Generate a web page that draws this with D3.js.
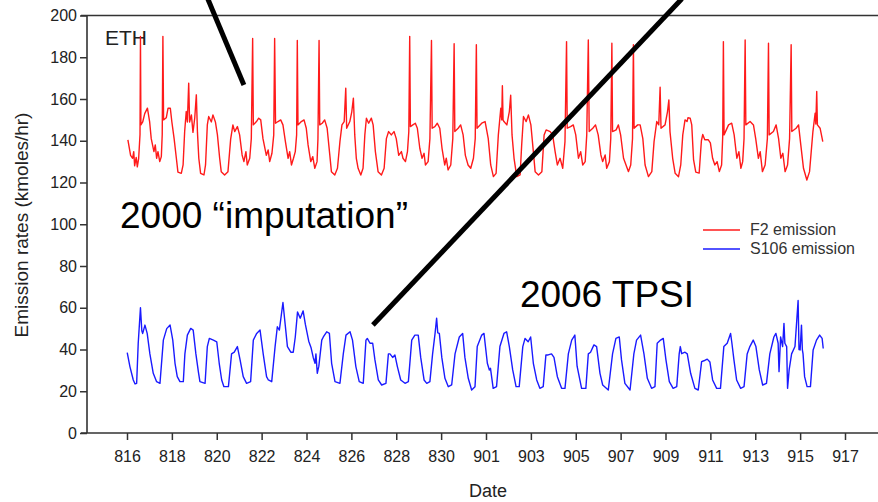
<!DOCTYPE html>
<html>
<head>
<meta charset="utf-8">
<script src="https://cdn.jsdelivr.net/npm/d3@7"></script>
<style>
  body { margin: 0; background: #fff; }
  svg { display: block; font-family: "Liberation Sans", Arial, sans-serif; }
</style>
</head>
<body>
<div id="chart"></div>
<script>
// x values are days counted from 8/16 00:00
const dateLabels = ["816","818","820","822","824","826","828","830","901","903","905","907","909","911","913","915","917"];
const dateTickDays = [0,2,4,6,8,10,12,14,16,18,20,22,24,26,28,30,32];
const yTicks = [0,20,40,60,80,100,120,140,160,180,200];

const f2Emission = [
  [0.04,140.4],[0.16,133],[0.25,131.6],[0.3,134.8],[0.34,128],[0.41,132],[0.46,127.5],[0.52,131.6],[0.58,143],[0.6,190],[0.62,147.6],[0.7,149],[0.79,153],[0.91,155.6],
  [1.01,149],[1.08,141],[1.2,134.8],[1.26,138],[1.32,131.6],[1.38,134.8],[1.46,130],[1.53,132.4],[1.57,143],[1.6,190],[1.63,150],[1.75,151],[1.83,155.6],[1.93,155.6],
  [2.0,149],[2.1,141],[2.2,131.6],[2.27,125],[2.42,124.4],[2.5,128.4],[2.57,144.4],[2.64,154],[2.69,149],[2.75,167.6],[2.79,149],[2.87,152.4],[2.94,144],
  [3.02,151],[3.09,162],[3.14,144],[3.2,131.6],[3.28,124.4],[3.43,123.6],[3.5,128.4],[3.58,147.6],[3.64,151.6],[3.76,149],[3.83,152.4],[3.94,149],
  [4.03,142.8],[4.13,131.6],[4.2,125.2],[4.35,123.6],[4.5,125.2],[4.62,140.8],[4.72,147.6],[4.8,144.4],[4.92,146.8],
  [5.02,142.8],[5.13,133.2],[5.21,130],[5.3,134.8],[5.36,128.4],[5.47,131.6],[5.54,141],[5.6,189],[5.63,147.6],[5.77,149.2],[5.87,150.8],[5.96,150],
  [6.06,141],[6.21,133],[6.29,135.6],[6.36,130],[6.46,134],[6.54,142.8],[6.58,189],[6.62,148.4],[6.73,149.2],[6.85,150],[6.95,147.6],
  [7.06,139.6],[7.18,131.6],[7.25,134.8],[7.33,128.4],[7.42,131.6],[7.5,134.8],[7.56,142.8],[7.59,188],[7.62,147.6],[7.77,149.2],[7.89,150],[7.99,146],
  [8.07,138],[8.19,130],[8.28,132.4],[8.37,126.8],[8.47,130],[8.51,141],[8.56,188],[8.59,147.6],[8.7,148.4],[8.81,150],[8.92,146],
  [9.04,133],[9.11,125.2],[9.26,123.6],[9.38,126.8],[9.49,139.6],[9.58,147.6],[9.68,149.2],[9.75,165.2],[9.79,146],[9.93,149.2],
  [10.02,154],[10.09,160.4],[10.15,142.8],[10.22,131.6],[10.3,126.8],[10.42,123.6],[10.52,126.8],[10.6,142.8],[10.67,150.8],[10.77,148.4],[10.89,150.8],[10.97,147.6],
  [11.07,134.8],[11.19,125.2],[11.34,123.6],[11.46,126.8],[11.56,141],[11.66,144.4],[11.78,142.8],[11.9,144.4],
  [12.0,141],[12.11,133],[12.23,134.8],[12.3,131.6],[12.41,130],[12.5,134.8],[12.56,144.4],[12.6,190],[12.63,146.8],[12.74,147.6],[12.85,148.4],[12.94,146],
  [13.05,136.4],[13.15,131.6],[13.24,134],[13.3,128.4],[13.42,130],[13.5,141],[13.57,188],[13.6,146],[13.72,146.8],[13.83,148.4],[13.94,146],
  [14.04,136.4],[14.16,128.4],[14.23,131.6],[14.31,126],[14.43,128.4],[14.52,141],[14.58,186.5],[14.61,144.4],[14.76,146],[14.87,147.6],[14.98,142.8],
  [15.08,133],[15.2,128.4],[15.32,126.8],[15.44,131.6],[15.52,141],[15.57,186],[15.6,146],[15.81,148.4],[15.96,149.2],
  [16.1,141],[16.21,128.4],[16.33,122.8],[16.45,124.4],[16.55,142.8],[16.66,155.6],[16.7,150],[16.73,166.4],[16.76,150],[16.8,149.2],[16.93,147.6],
  [17.04,154],[17.1,161.8],[17.16,142.8],[17.25,131.6],[17.37,122.8],[17.52,123.6],[17.59,138],[17.67,151.6],[17.79,149.2],[17.89,152.4],
  [18.0,147.6],[18.11,134.8],[18.19,125.2],[18.34,123.6],[18.49,125.2],[18.59,142.8],[18.68,145.2],[18.86,144.4],[18.97,142.8],
  [19.08,134.8],[19.18,128.4],[19.3,131.6],[19.42,126.8],[19.52,139.6],[19.59,187.5],[19.62,146],[19.77,146.8],[19.89,147.6],
  [20.0,142.8],[20.12,131.6],[20.22,134.8],[20.31,128.4],[20.42,130],[20.49,142.8],[20.56,188.3],[20.6,144.4],[20.76,146],[20.88,147.6],
  [21.0,142.8],[21.12,133.2],[21.2,130],[21.31,133.2],[21.38,126.8],[21.5,130],[21.56,141],[21.61,186.7],[21.64,144.4],[21.8,145.2],[21.9,147.6],
  [22.0,142.8],[22.13,131.6],[22.24,128.4],[22.35,125.2],[22.45,128.4],[22.53,141],[22.57,186],[22.6,146],[22.76,147.6],[22.87,147.6],[22.99,141],
  [23.09,128.4],[23.24,122.8],[23.39,125.2],[23.49,139.6],[23.61,149.2],[23.7,147.6],[23.76,165.6],[23.8,146],[23.98,147.6],
  [24.09,154],[24.15,159.6],[24.2,144.4],[24.32,131.6],[24.43,124.4],[24.58,122.8],[24.68,128.4],[24.77,142.8],[24.87,150],[24.96,149.2],
  [25.0,151],[25.1,150.8],[25.17,147.6],[25.25,131],[25.35,125],[25.5,124.5],[25.6,140],[25.66,143],[25.75,140.5],[25.9,140.5],
  [26.0,139],[26.1,131.6],[26.2,128.4],[26.3,130],[26.4,125.2],[26.5,128.4],[26.55,142],[26.58,187.5],[26.61,142.8],[26.81,147.6],[26.95,148.4],
  [27.06,142.8],[27.18,131.6],[27.27,134.8],[27.36,126.8],[27.44,130],[27.5,141],[27.55,188.3],[27.58,147.6],[27.77,149.2],[27.92,147.6],
  [28.02,141],[28.14,131.6],[28.22,134.8],[28.32,125.2],[28.44,128.4],[28.54,141],[28.59,186.7],[28.62,142.8],[28.81,144.4],[28.93,147.6],
  [29.04,141],[29.14,131.6],[29.23,134],[29.33,125.2],[29.44,128.4],[29.53,141],[29.6,186],[29.63,144.4],[29.82,146],[29.93,147.6],
  [30.03,138],[30.15,126.8],[30.3,121.2],[30.42,125.2],[30.57,144.4],[30.67,153.2],[30.7,148],[30.74,163.6],[30.77,147.6],[30.89,146],[31.01,139.6]
];

const s106Emission = [
  [0.01,38.5],[0.13,31.8],[0.28,25.4],[0.36,23.5],[0.43,23.8],[0.5,43],[0.6,60],[0.66,49],[0.7,47.7],[0.8,51.7],[0.9,47.7],
  [1.02,37.9],[1.17,28.6],[1.32,24.6],[1.47,23.8],[1.62,44.5],[1.77,50],[1.92,51.7],
  [2.04,44.5],[2.14,33.4],[2.24,27],[2.36,24.6],[2.51,24.6],[2.58,37.9],[2.69,46.9],[2.84,50.1],[2.95,49.3],
  [3.07,37.9],[3.18,29.4],[3.25,24.6],[3.48,23.8],[3.58,41.4],[3.67,45.3],[3.85,44.5],
  [4.0,43.7],[4.11,33.4],[4.22,25.4],[4.32,22.2],[4.52,22.2],[4.66,37.9],[4.78,38.7],[4.92,41.4],
  [5.04,35],[5.18,27],[5.33,23.8],[5.51,24.6],[5.63,44.5],[5.78,47.7],[5.93,49.3],
  [6.07,37.9],[6.22,27],[6.3,25.4],[6.45,24.6],[6.6,41.4],[6.7,50.9],[6.79,49.3],[6.95,62.5],
  [7.05,52],[7.15,41.4],[7.3,38.7],[7.41,38.7],[7.5,46],[7.6,58],[7.72,55],[7.85,58.5],[7.95,52],
  [8.1,44],[8.2,41],[8.3,36.2],[8.38,33.4],[8.42,37.9],[8.48,28.6],[8.55,32],[8.68,44.5],[8.75,46],[8.9,48.5],
  [9.02,47.7],[9.12,33.4],[9.27,24.6],[9.49,23.8],[9.64,37.9],[9.76,46.9],[9.94,48.5],
  [10.05,44.5],[10.2,31.8],[10.35,24.6],[10.53,23.8],[10.65,44.5],[10.71,45.3],[10.83,43],[10.95,43],
  [11.05,35],[11.2,25.4],[11.35,23],[11.54,23.8],[11.65,37.9],[11.72,37.9],[11.84,36.2],[11.94,37.4],
  [12.05,31.8],[12.2,25.4],[12.39,23.8],[12.54,24.6],[12.69,44.5],[12.83,46.9],[12.98,46.9],
  [13.09,36.2],[13.24,25.4],[13.36,23.8],[13.5,24.6],[13.62,37.9],[13.73,47.7],[13.8,55],[13.85,48],[13.92,47.7],
  [14.03,36.2],[14.17,26.2],[14.32,22.2],[14.47,23],[14.62,37.9],[14.81,46],[14.96,47.7],
  [15.06,36.2],[15.21,26.2],[15.36,20.6],[15.51,22.2],[15.61,41.4],[15.81,46.9],[15.91,47.7],
  [16.06,33.4],[16.15,30.2],[16.2,31],[16.32,21.4],[16.47,22.2],[16.62,41.4],[16.8,47.7],[16.92,48.5],
  [17.04,41.4],[17.19,30.2],[17.34,22.2],[17.48,22.2],[17.64,41.4],[17.74,45.3],[17.88,43.7],[17.99,46],
  [18.11,33.4],[18.26,25.4],[18.4,21.4],[18.55,22.2],[18.67,37.4],[18.77,37.4],[18.92,37.9],
  [19.03,36.2],[19.18,27],[19.37,21.4],[19.52,21.4],[19.67,37.9],[19.82,44.5],[19.96,46.9],
  [20.06,32],[20.26,21.4],[20.45,21.4],[20.56,37.9],[20.66,38.7],[20.81,42.2],[20.93,41.4],
  [21.08,28.6],[21.2,23],[21.45,20.6],[21.64,37.9],[21.79,45.3],[21.94,46],
  [22.04,35],[22.19,23.8],[22.42,20.6],[22.59,37.9],[22.71,44.5],[22.89,46.9],
  [23.04,37.9],[23.19,26.2],[23.38,21.4],[23.53,22.2],[23.63,43],[23.78,44.5],[23.9,45.3],
  [24.02,35],[24.17,24.6],[24.34,21.4],[24.5,22.2],[24.61,37.9],[24.66,41.4],[24.72,38],[24.87,38.7],[24.97,37.9],
  [25.12,28.6],[25.31,21.4],[25.46,20.6],[25.61,34.2],[25.71,34.6],[25.86,35.4],[25.98,34],
  [26.1,25.4],[26.28,21.4],[26.45,21.4],[26.6,41.4],[26.75,43],[26.9,47.7],[26.96,43],
  [27.05,35],[27.17,25.4],[27.35,21.4],[27.5,22.2],[27.64,37.9],[27.76,41.4],[27.91,44.5],
  [28.03,41.4],[28.18,30.2],[28.33,23],[28.5,23.8],[28.65,37.9],[28.83,46],[28.92,47.7],
  [29.02,43],[29.06,29.4],[29.13,46],[29.22,41.4],[29.28,52.5],[29.32,43],[29.4,41.4],[29.44,21.4],[29.51,30.2],[29.62,37.9],[29.77,41.4],[29.91,63.5],[29.95,40],
  [30.0,39.8],[30.06,51.7],[30.1,39.8],[30.13,37.9],[30.2,27],[30.31,22.2],[30.46,22.2],[30.58,39.8],[30.73,44.5],[30.87,46.9],[30.98,45.3],[31.03,40.5]
];

const seriesNames = ["F2 emission", "S106 emission"];
const seriesColors = ["#ff1a1a", "#1a1aff"];

// callout text and pointer lines, in data units (day, value)
const calloutTexts = [
  {text: "2000 \u201cimputation\u201d", day: -0.31, value: 98.2},
  {text: "2006 TPSI", day: 17.51, value: 60.4}
];
const calloutLines = [
  [[3.6, 208], [5.21, 166.7]],
  [[24.73, 208], [10.96, 51.7]]
];

const width = 878, height = 502,
  margin = {top: 15.5, right: 0, bottom: 69, left: 87};

const svg = d3.select("#chart")
  .append("svg")
  .attr("width", width)
  .attr("height", height);

const x = d3.scaleLinear([0, 32], [127, 845]);
const y = d3.scaleLinear([0, 200], [height - margin.bottom, margin.top]);

const axisColor = "#333";

// y axis
const yAxis = svg.append("g")
  .attr("transform", `translate(${margin.left},0)`)
  .call(d3.axisLeft(y).tickValues(yTicks).tickSize(7).tickPadding(3));
yAxis.select(".domain").remove();
yAxis.selectAll("line").attr("stroke", axisColor).attr("stroke-width", 1.5);
yAxis.selectAll("text").attr("font-size", 16).attr("fill", "#222")
  .attr("font-family", "'Liberation Sans', Arial, sans-serif");

// x axis
const xAxis = svg.append("g")
  .attr("transform", `translate(0,${height - margin.bottom})`)
  .call(d3.axisBottom(x).tickValues(dateTickDays).tickSize(7).tickPadding(11)
    .tickFormat((d, i) => dateLabels[i]));
xAxis.select(".domain").remove();
xAxis.selectAll("line").attr("stroke", axisColor).attr("stroke-width", 1.5);
xAxis.selectAll("text").attr("font-size", 16).attr("fill", "#222")
  .attr("font-family", "'Liberation Sans', Arial, sans-serif");

// frame lines
svg.append("path")
  .attr("d", `M${margin.left - 6},${y(200)}H${width}M${margin.left},${y(200)}V${y(0)}M${margin.left - 6},${y(0)}H${width}`)
  .attr("fill", "none")
  .attr("stroke", axisColor)
  .attr("stroke-width", 1.6);

// axis titles
svg.append("text")
  .attr("x", 488)
  .attr("y", 497)
  .attr("text-anchor", "middle")
  .attr("font-size", 18)
  .attr("fill", "#222")
  .text("Date");

svg.append("text")
  .attr("transform", "translate(28,225) rotate(-90)")
  .attr("text-anchor", "middle")
  .attr("font-size", 19)
  .attr("fill", "#222")
  .text("Emission rates (kmoles/hr)");

svg.append("text")
  .attr("x", 105)
  .attr("y", 45)
  .attr("font-size", 21)
  .attr("fill", "#222")
  .text("ETH");

// series
const line = d3.line()
  .x(d => x(d[0]))
  .y(d => y(d[1]));

[f2Emission, s106Emission].forEach((s, i) => {
  svg.append("path")
    .datum(s)
    .attr("fill", "none")
    .attr("stroke", seriesColors[i])
    .attr("stroke-width", 1.4)
    .attr("stroke-linejoin", "round")
    .attr("d", line);
});

// legend
const legend = svg.selectAll(".legend-group")
  .data(seriesNames)
  .join("g")
  .attr("class", "legend-group")
  .attr("transform", (d, i) => `translate(703,${230 + i * 19})`);

legend.append("line")
  .attr("x1", 0).attr("x2", 37)
  .attr("stroke", (d, i) => seriesColors[i])
  .attr("stroke-width", 1.5);

legend.append("text")
  .attr("x", 47)
  .attr("y", 5)
  .attr("font-size", 16)
  .attr("fill", "#333")
  .text(d => d);

// callouts
svg.selectAll(".callout-line")
  .data(calloutLines)
  .join("line")
  .attr("class", "callout-line")
  .attr("x1", d => x(d[0][0])).attr("y1", d => y(d[0][1]))
  .attr("x2", d => x(d[1][0])).attr("y2", d => y(d[1][1]))
  .attr("stroke", "#000")
  .attr("stroke-width", 5);

svg.selectAll(".callout-text")
  .data(calloutTexts)
  .join("text")
  .attr("class", "callout-text")
  .attr("x", d => x(d.day))
  .attr("y", d => y(d.value))
  .attr("font-size", 37)
  .attr("fill", "#000")
  .text(d => d.text);
</script>
</body>
</html>
